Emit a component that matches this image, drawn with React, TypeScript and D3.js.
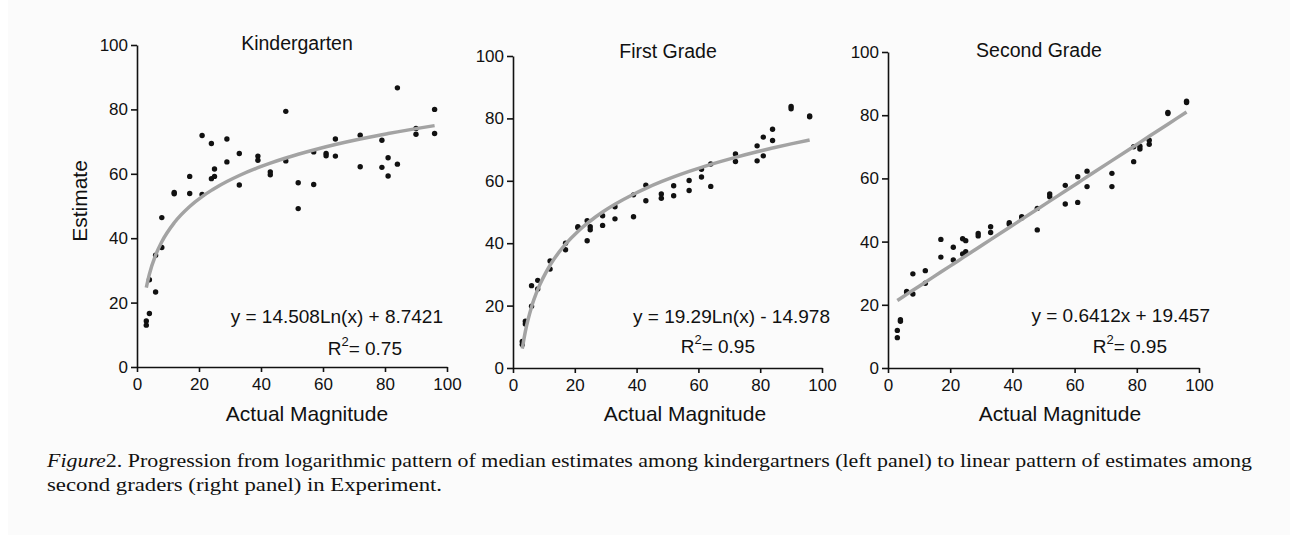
import React, { useEffect, useRef } from 'react';
import * as d3 from 'd3';

// number-line targets (each shown twice, two estimate sets per grade)
const magnitudes = [3, 4, 6, 8, 12, 17, 21, 24, 25, 29, 33, 39, 43, 48, 52, 57, 61, 64, 72, 79, 81, 84, 90, 96];

const kindergartenA = [14.3, 16.6, 23.3, 46.4, 54.2, 59.2, 71.9, 69.4, 61.5, 70.8, 66.3, 65.5, 60.6, 79.4, 57.2, 56.7, 66.3, 70.8, 72.0, 70.4, 65.0, 86.7, 74.1, 80.0];
const kindergartenB = [13.0, 27.1, 34.7, 37.1, 53.8, 53.9, 53.6, 58.5, 59.2, 63.7, 56.5, 64.2, 59.7, 64.0, 49.2, 66.8, 65.6, 65.5, 62.2, 62.0, 59.3, 63.0, 72.3, 72.5];

const firstGradeA = [8.5, 14.1, 26.4, 28.1, 34.3, 37.9, 45.3, 47.2, 45.3, 48.8, 47.8, 48.5, 53.6, 55.8, 58.4, 60.1, 61.2, 58.2, 68.6, 71.2, 74.0, 76.5, 83.8, 80.8];
const firstGradeB = [7.5, 15.0, 19.8, 25.3, 31.7, 40.0, 45.0, 40.8, 44.3, 45.7, 51.7, 55.5, 58.6, 54.4, 55.2, 56.9, 63.7, 65.4, 66.2, 66.4, 68.0, 72.9, 83.1, 80.5];

const secondGradeA = [11.9, 15.3, 24.2, 29.8, 30.8, 40.7, 38.2, 40.9, 40.3, 42.6, 44.7, 46.0, 47.9, 43.7, 55.1, 57.8, 60.5, 62.3, 61.6, 65.3, 69.3, 70.8, 80.5, 84.4];
const secondGradeB = [9.6, 14.8, 24.0, 23.4, 26.8, 35.1, 34.2, 36.1, 36.8, 41.8, 42.9, 45.5, 47.5, 50.5, 54.2, 51.9, 52.4, 57.4, 57.4, 70.0, 70.2, 72.1, 80.9, 84.0];

const tickValues = [0, 20, 40, 60, 80, 100];

// fitted trend lines as printed on the figure
const kgFit = { a: 14.508, b: 8.7421 };
const g1Fit = { a: 19.29, b: -14.978 };
const g2Fit = { a: 0.6412, b: 19.457 };

const panels = [
    {
        title: 'Kindergarten', a: kindergartenA, b: kindergartenB,
        fit: (x: number) => kgFit.a * Math.log(x) + kgFit.b,
        eq: 'y = 14.508Ln(x) + 8.7421', r2: '= 0.75',
        x0: 137, x1: 447, yTop: 45, yBottom: 367,
        titleX: 297, titleY: 50, labelX: 307, eqX: 443, eqY: 323, r2X: 402, r2Y: 355,
    },
    {
        title: 'First Grade', a: firstGradeA, b: firstGradeB,
        fit: (x: number) => g1Fit.a * Math.log(x) + g1Fit.b,
        eq: 'y = 19.29Ln(x) - 14.978', r2: '= 0.95',
        x0: 513, x1: 822, yTop: 56, yBottom: 368,
        titleX: 668, titleY: 58, labelX: 685, eqX: 830, eqY: 323, r2X: 755, r2Y: 353,
    },
    {
        title: 'Second Grade', a: secondGradeA, b: secondGradeB,
        fit: (x: number) => g2Fit.a * x + g2Fit.b,
        eq: 'y = 0.6412x + 19.457', r2: '= 0.95',
        x0: 888, x1: 1199, yTop: 52, yBottom: 368,
        titleX: 1039, titleY: 57, labelX: 1060, eqX: 1210, eqY: 322, r2X: 1167, r2Y: 353,
    },
];

const W = 1290;
const H = 535;
const FONT = '"Liberation Sans", Arial, Helvetica, sans-serif';

const App = () => {
    const svgRef = useRef<SVGSVGElement>(null);

    useEffect(() => {
        const svg = d3.select(svgRef.current);
        svg.selectAll('*').remove();

        svg.append('rect').attr('width', W).attr('height', H).attr('fill', '#ffffff');
        svg.append('rect').attr('x', 8).attr('width', W - 8).attr('height', H).attr('fill', '#fbfbfb');

        panels.forEach(p => {
            const x = d3.scaleLinear().domain([0, 100]).range([p.x0, p.x1]);
            const y = d3.scaleLinear().domain([0, 100]).range([p.yBottom, p.yTop]);
            const g = svg.append('g');

            // points
            const pts = magnitudes.flatMap((m, i) => [{ m, v: p.a[i] }, { m, v: p.b[i] }]);
            g.selectAll('.dot')
                .data(pts)
                .enter()
                .append('circle')
                .attr('class', 'dot')
                .attr('cx', d => x(d.m))
                .attr('cy', d => y(d.v))
                .attr('r', 2.7)
                .attr('fill', '#111');

            // trend line (drawn over the points, like Excel)
            const line = d3.line<number>()
                .x(m => x(m))
                .y(m => y(p.fit(m)))
                .curve(d3.curveMonotoneX);
            g.append('path')
                .datum(magnitudes)
                .attr('fill', 'none')
                .attr('stroke', '#a3a3a3')
                .attr('stroke-width', 3.5)
                .attr('d', line);

            // axes
            const xAxis = g.append('g')
                .attr('transform', `translate(0,${p.yBottom})`)
                .call(d3.axisBottom(x).tickValues(tickValues).tickSize(5).tickSizeOuter(0).tickPadding(6));
            const yAxis = g.append('g')
                .attr('transform', `translate(${p.x0},0)`)
                .call(d3.axisLeft(y).tickValues(tickValues).tickSize(6).tickSizeOuter(0).tickPadding(3));
            [xAxis, yAxis].forEach(ax => {
                ax.selectAll('path, line').attr('stroke', '#111').attr('stroke-width', 1.6);
                ax.selectAll('text')
                    .style('font-family', FONT)
                    .style('font-size', '17px')
                    .attr('fill', '#111');
            });

            // title + axis label
            g.append('text')
                .attr('x', p.titleX)
                .attr('y', p.titleY)
                .attr('text-anchor', 'middle')
                .style('font-family', FONT)
                .style('font-size', '19.5px')
                .attr('fill', '#111')
                .text(p.title);

            g.append('text')
                .attr('x', p.labelX)
                .attr('y', 421)
                .attr('text-anchor', 'middle')
                .style('font-family', FONT)
                .style('font-size', '21px')
                .attr('fill', '#111')
                .text('Actual Magnitude');

            // equation + R squared
            g.append('text')
                .attr('x', p.eqX)
                .attr('y', p.eqY)
                .attr('text-anchor', 'end')
                .style('font-family', FONT)
                .style('font-size', '19px')
                .attr('fill', '#111')
                .text(p.eq);

            const r2 = g.append('text')
                .attr('x', p.r2X)
                .attr('y', p.r2Y)
                .attr('text-anchor', 'end')
                .style('font-family', FONT)
                .style('font-size', '19px')
                .attr('fill', '#111');
            r2.append('tspan').text('R');
            r2.append('tspan').attr('dy', -9).style('font-size', '13px').text('2');
            r2.append('tspan').attr('dy', 9).text(p.r2);
        });

        // y label on the first panel only
        svg.append('text')
            .attr('transform', 'translate(87,201) rotate(-90)')
            .attr('text-anchor', 'middle')
            .style('font-family', FONT)
            .style('font-size', '21px')
            .attr('fill', '#111')
            .text('Estimate');

        // caption
        const serif = '"Liberation Serif", "Times New Roman", serif';
        const c1 = svg.append('text')
            .attr('x', 47)
            .attr('y', 467)
            .attr('textLength', 1205)
            .attr('lengthAdjust', 'spacingAndGlyphs')
            .style('font-family', serif)
            .style('font-size', '19px')
            .attr('fill', '#111');
        c1.append('tspan').style('font-style', 'italic').text('Figure');
        c1.append('tspan').text('2.  Progression from logarithmic pattern of median estimates among kindergartners (left panel) to linear pattern of estimates among');

        svg.append('text')
            .attr('x', 47)
            .attr('y', 491)
            .attr('textLength', 395)
            .attr('lengthAdjust', 'spacingAndGlyphs')
            .style('font-family', serif)
            .style('font-size', '19px')
            .attr('fill', '#111')
            .text('second graders (right panel) in Experiment.');
    }, []);

    return (
        <div style={{ position: 'absolute', left: 0, top: 0 }}>
            <svg ref={svgRef} width={W} height={H} style={{ display: 'block' }}></svg>
        </div>
    );
};

export default App;
